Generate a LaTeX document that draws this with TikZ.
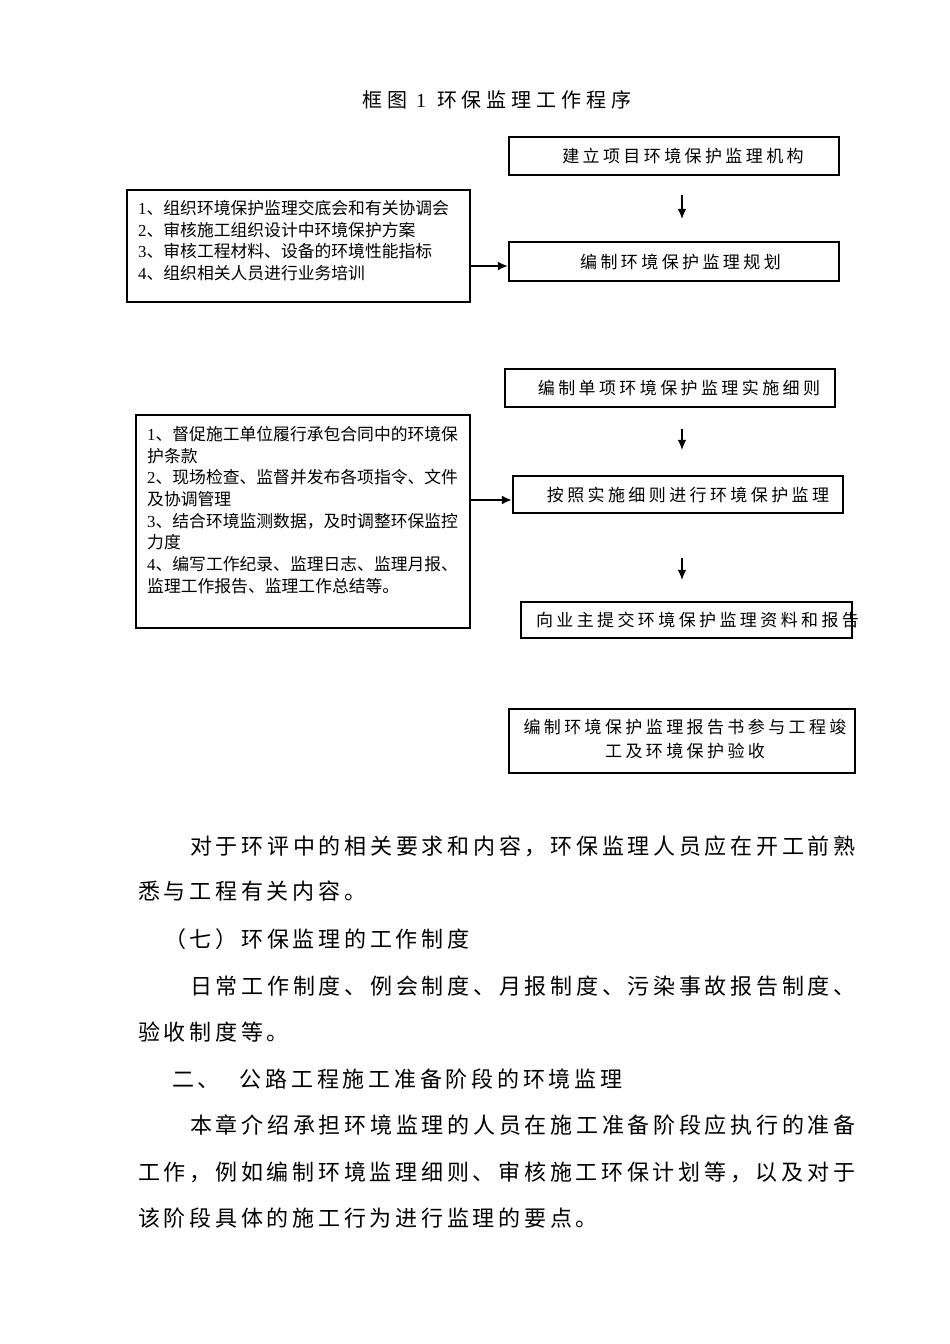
\documentclass[tikz,border=0pt]{standalone}
\usepackage{fontspec}
\setmainfont{Noto Sans CJK SC}
\newfontfamily\lat{Liberation Serif}
\newfontfamily\bodyf[LetterSpace=17]{Noto Sans CJK SC}
\newfontfamily\boxf[LetterSpace=20]{Noto Sans CJK SC}
\newfontfamily\titlef[LetterSpace=25]{Noto Sans CJK SC}
\newcommand\bodysize{\bodyf\fontsize{22pt}{26pt}\selectfont}
\newcommand\boxsize{\boxf\fontsize{17pt}{24pt}\selectfont}
\newcommand\leftsize{\fontsize{16.8pt}{21.7pt}\selectfont}
\usetikzlibrary{arrows.meta}
\begin{document}
\begin{tikzpicture}[x=1pt,y=-1pt,
  box/.style={draw, line width=2.2pt, inner sep=0pt},
  btxt/.style={font=\boxsize, inner sep=0pt, anchor=base},
  ltxt/.style={font=\leftsize, inner sep=0pt, anchor=north west, align=left},
  body/.style={font=\bodysize, inner sep=0pt, anchor=base west},
  arr/.style={-{Latex[length=10pt,width=8.5pt]}, line width=1.1pt},
  harr/.style={-{Latex[length=10pt,width=9pt]}, line width=2pt}]
\fill[white] (0,0) rectangle (950,1344);
\useasboundingbox (0,0) rectangle (950,1344);

% title
\node[font={\titlef\fontsize{20pt}{24pt}\selectfont}, inner sep=0pt, anchor=base] (title) at (497,107.6)
  {框图\hspace{9pt}{\lat 1}\hspace{11pt}环保监理工作程序};

% right column texts
\node[btxt] (t1) at (683,162.5) {建立项目环境保护监理机构};
\node[btxt] (t2) at (680.5,268) {编制环境保护监理规划};
\node[btxt] (t3) at (679,394.5) {编制单项环境保护监理实施细则};
\node[btxt] (t4) at (688,501) {按照实施细则进行环境保护监理};
\node[btxt] (t5) at (697.5,626.5) {向业主提交环境保护监理资料和报告};
\node[font=\boxsize, inner sep=0pt, align=center] (t6) at (685,739)
  {编制环境保护监理报告书参与工程竣\\工及环境保护验收};

% right column boxes
\node[box, minimum width=330pt, minimum height=38pt] (b1) at (674,156) {};
\node[box, minimum width=330pt, minimum height=39pt] (b2) at (674,261.5) {};
\node[box, minimum width=330pt, minimum height=38pt] (b3) at (670,388) {};
\node[box, minimum width=330pt, minimum height=37pt] (b4) at (678,494.5) {};
\node[box, minimum width=331pt, minimum height=36pt] (b5) at (686.5,620) {};
\node[box, minimum width=346pt, minimum height=64pt] (b6) at (682,741) {};

% left boxes
\node[box, minimum width=343pt, minimum height=112pt] (l1) at (298.5,246) {};
\node[ltxt] (lt1) at (138,200)
  {{\lat 1}、组织环境保护监理交底会和有关协调会\\
   {\lat 2}、审核施工组织设计中环境保护方案\\
   {\lat 3}、审核工程材料、设备的环境性能指标\\
   {\lat 4}、组织相关人员进行业务培训};
\node[box, minimum width=334pt, minimum height=213pt] (l2) at (303,521.5) {};
\node[ltxt] (lt2) at (147,426)
  {{\lat 1}、督促施工单位履行承包合同中的环境保\\
   护条款\\
   {\lat 2}、现场检查、监督并发布各项指令、文件\\
   及协调管理\\
   {\lat 3}、结合环境监测数据，及时调整环保监控\\
   力度\\
   {\lat 4}、编写工作纪录、监理日志、监理月报、\\
   监理工作报告、监理工作总结等。};

% arrows
\coordinate (ax) at (682,0);
\coordinate (ha1) at (0,266);
\coordinate (ha2) at (0,500);
\draw[arr, shorten <=19pt, shorten >=22pt] (b1.south -| ax) -- (b2.north -| ax);
\draw[arr, shorten <=21pt, shorten >=25pt] (b3.south -| ax) -- (b4.north -| ax);
\draw[arr, shorten <=44pt, shorten >=21pt] (b4.south -| ax) -- (b5.north -| ax);
\draw[harr] (l1.east |- ha1) -- (b2.west |- ha1);
\draw[harr] (l2.east |- ha2) -- (b4.west |- ha2);

% body text
\node[body] (p1) at (190,854) {对于环评中的相关要求和内容，环保监理人员应在开工前熟};
\node[body] (p2) at (138,899) {悉与工程有关内容。};
\node[body] (p3) at (164,947) {（七）环保监理的工作制度};
\node[body] (p4) at (190,994) {日常工作制度、例会制度、月报制度、污染事故报告制度、};
\node[body] (p5) at (138,1040) {验收制度等。};
\node[body] (p6) at (172,1087) {二、\hspace{20pt}公路工程施工准备阶段的环境监理};
\node[body] (p7) at (190,1133) {本章介绍承担环境监理的人员在施工准备阶段应执行的准备};
\node[body] (p8) at (138,1180) {工作，例如编制环境监理细则、审核施工环保计划等，以及对于};
\node[body] (p9) at (138,1226) {该阶段具体的施工行为进行监理的要点。};
\end{tikzpicture}
\end{document}
